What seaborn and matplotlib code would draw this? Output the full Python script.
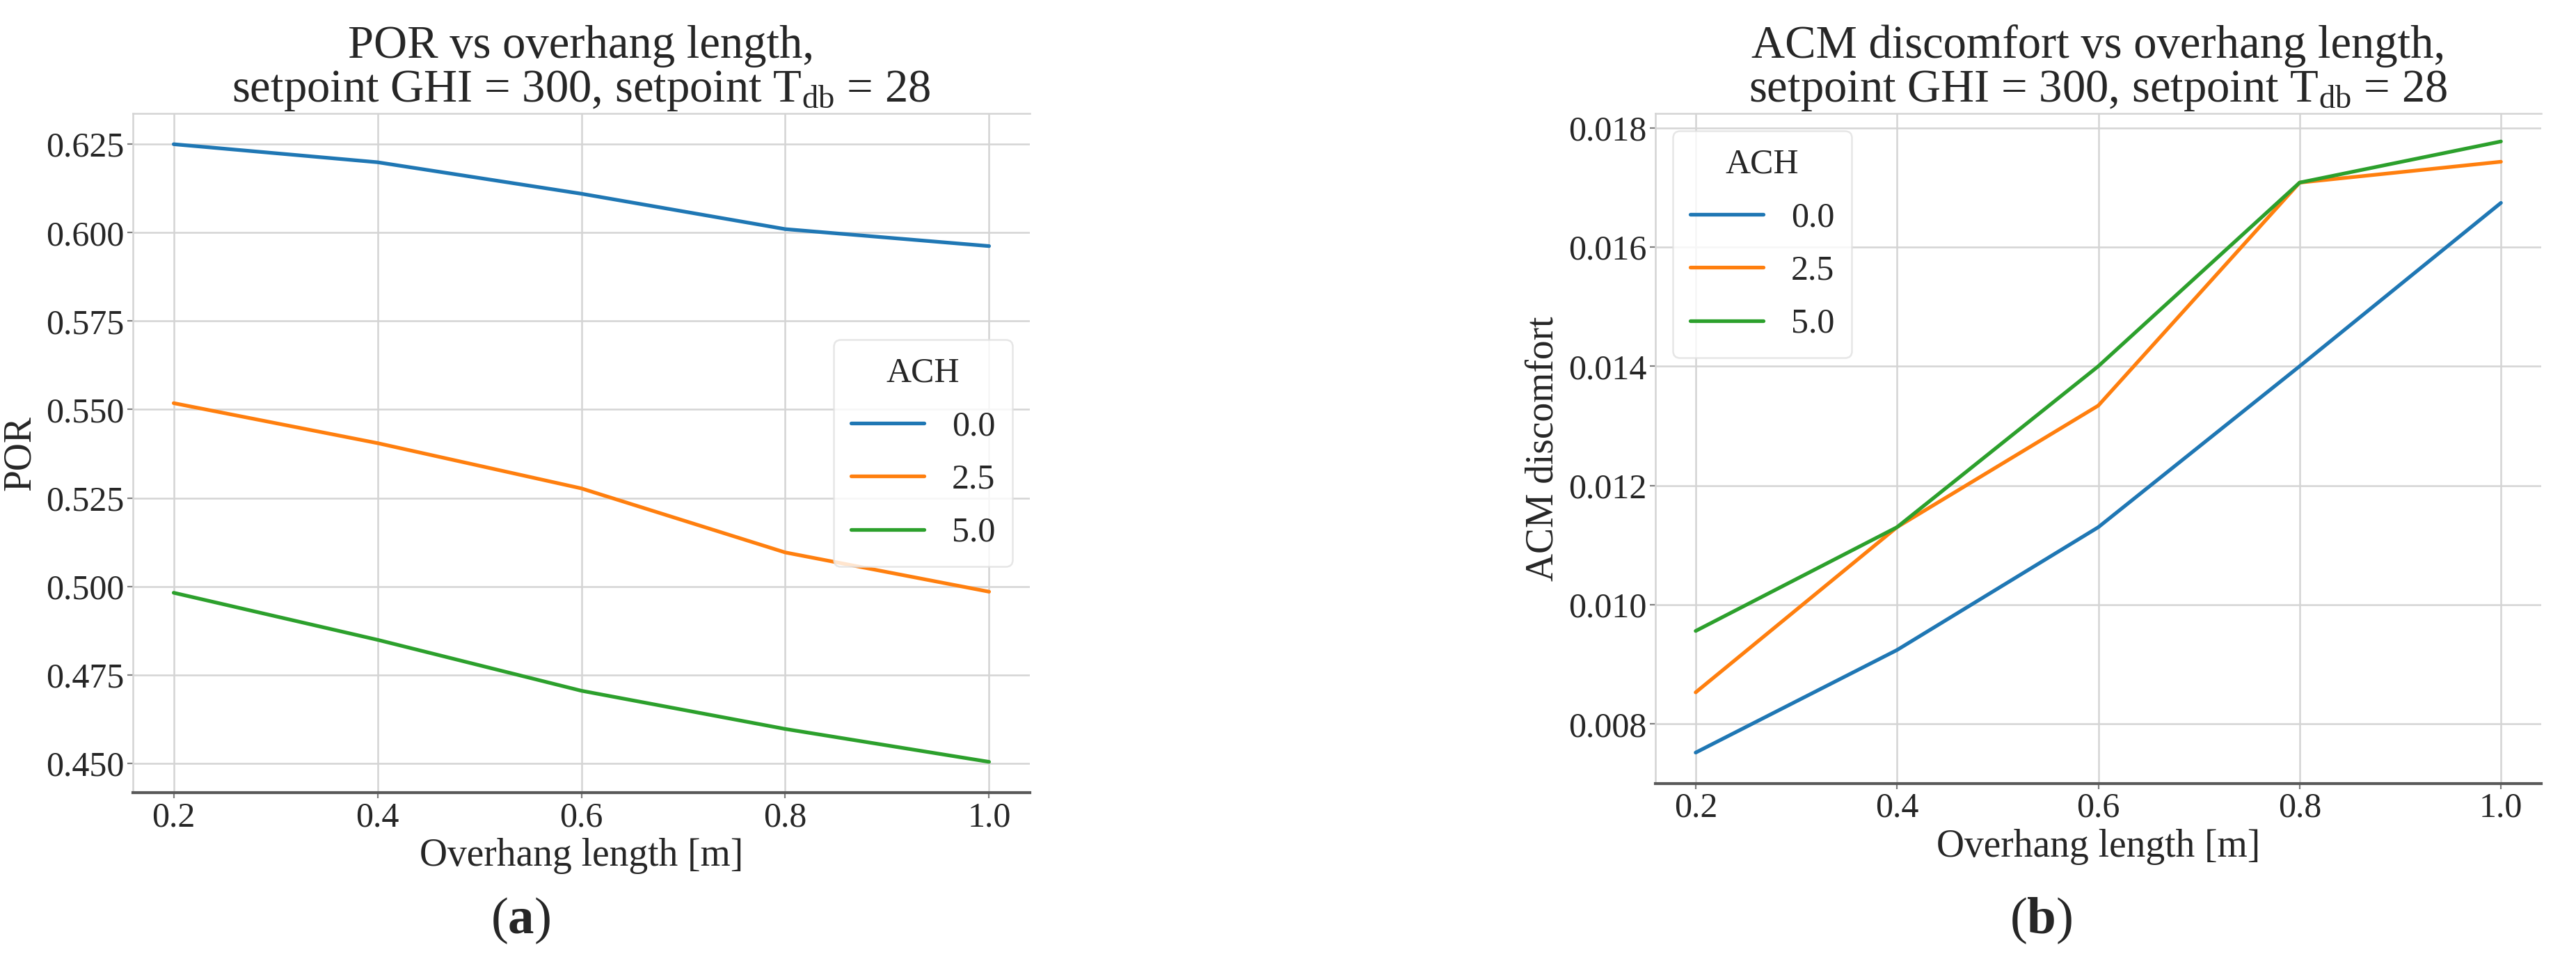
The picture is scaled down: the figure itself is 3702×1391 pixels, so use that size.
import numpy as np
import pandas as pd
import matplotlib
matplotlib.use("Agg")
import matplotlib.pyplot as plt
import seaborn as sns

# ---- data ----
overhang = [0.2, 0.4, 0.6, 0.8, 1.0]
ach_levels = ["0.0", "2.5", "5.0"]
por_ach0 = [0.6250, 0.6199, 0.6110, 0.6010, 0.5962]
por_ach25 = [0.5518, 0.5405, 0.5277, 0.5096, 0.4985]
por_ach5 = [0.4982, 0.4849, 0.4705, 0.4597, 0.4504]
acm_ach0 = [0.00752, 0.00924, 0.01130, 0.01400, 0.01674]
acm_ach25 = [0.00853, 0.01130, 0.01334, 0.01708, 0.01743]
acm_ach5 = [0.00956, 0.01130, 0.01400, 0.01708, 0.01777]

rows = []
for lvl, por, acm in zip(ach_levels, [por_ach0, por_ach25, por_ach5],
                         [acm_ach0, acm_ach25, acm_ach5]):
    for x, p, a in zip(overhang, por, acm):
        rows.append({"Overhang": x, "ACH": lvl, "POR": p, "ACM": a})
df = pd.DataFrame(rows)

sns.set_theme(style="whitegrid")
plt.rcParams['font.family'] = ['Liberation Serif', 'DejaVu Serif']
plt.rcParams['mathtext.fontset'] = 'custom'
plt.rcParams['mathtext.rm'] = 'Liberation Serif'
plt.rcParams['mathtext.it'] = 'Liberation Serif:italic'
plt.rcParams['mathtext.bf'] = 'Liberation Serif:bold'

W, H = 3702, 1391
dpi = 200
fig = plt.figure(figsize=(W / dpi, H / dpi), dpi=dpi)

def px_axes(x0, y0, x1, y1):
    return fig.add_axes([x0 / W, 1 - y1 / H, (x1 - x0) / W, (y1 - y0) / H])

ax1 = px_axes(191, 163, 1480, 1139)
ax2 = px_axes(2379, 163, 3652, 1126)

palette = dict(zip(ach_levels, ["#1f77b4", "#ff7f0e", "#2ca02c"]))

title_fs = 24
label_fs = 20
tick_fs = 18
leg_fs = 18

sub = r"$\mathrm{T_{db}}$"

for ax, ycol, ylab, tl, ylim, loc in [
    (ax1, "POR", "POR", "POR vs overhang length,", (0.4417, 0.6337), "center right"),
    (ax2, "ACM", "ACM discomfort", "ACM discomfort vs overhang length,", (0.00700, 0.01824), "upper left"),
]:
    sns.lineplot(data=df, x="Overhang", y=ycol, hue="ACH", hue_order=ach_levels,
                 palette=palette, linewidth=1.9, ax=ax)
    ax.set_xlim(0.16, 1.04)
    ax.set_ylim(*ylim)
    ax.set_xticks(overhang)
    ax.set_xticklabels([f"{v:.1f}" for v in overhang])
    ax.set_title(tl + "\nsetpoint GHI = 300, setpoint " + sub + " = 28",
                 fontsize=title_fs, pad=6, linespacing=1.05)
    ax.set_xlabel("Overhang length [m]", fontsize=label_fs, labelpad=2)
    ax.set_ylabel(ylab, fontsize=label_fs, labelpad=4)
    ax.tick_params(axis="both", labelsize=tick_fs, length=3, width=0.8,
                   color="0.5", pad=1.5, bottom=True, left=True)
    ax.grid(True, color="0.83", linewidth=0.9)
    for s in ["top", "left"]:
        ax.spines[s].set_color("0.83")
        ax.spines[s].set_linewidth(0.9)
    ax.spines["right"].set_visible(False)
    ax.spines["bottom"].set_color("0.35")
    ax.spines["bottom"].set_linewidth(1.5)
    leg = ax.legend(title="ACH", loc=loc, fontsize=leg_fs, title_fontsize=leg_fs,
                    frameon=True, fancybox=True, borderpad=0.5, labelspacing=0.6,
                    handlelength=2.1)
    leg.get_frame().set_edgecolor("0.88")
    leg.get_frame().set_linewidth(0.9)
    for line in leg.get_lines():
        line.set_linewidth(1.9)

fig.text(748 / W, 1 - 1323 / H, r"($\mathbf{a}$)", ha="center", va="center", fontsize=27)
fig.text(2933 / W, 1 - 1323 / H, r"($\mathbf{b}$)", ha="center", va="center", fontsize=27)

fig.savefig("out.png", dpi=dpi, facecolor="white")
